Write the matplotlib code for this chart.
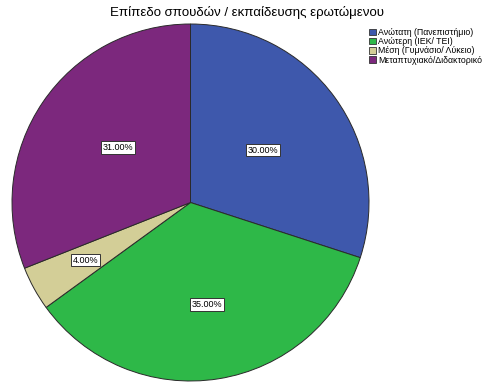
import numpy as np
import matplotlib
matplotlib.use("Agg")
import matplotlib.pyplot as plt
from matplotlib.patches import Patch

plt.rcParams['font.family'] = ['Liberation Sans', 'DejaVu Sans']

title = "Επίπεδο σπουδών / εκπαίδευσης ερωτώμενου"
categories = ["Ανώτατη (Πανεπιστήμιο)", "Ανώτερη (ΙΕΚ/ ΤΕΙ)",
              "Μέση (Γυμνάσιο/ Λύκειο)", "Μεταπτυχιακό/Διδακτορικό"]
values = [30.0, 35.0, 4.0, 31.0]
colors = ["#3E58AC", "#2EB848", "#D3CE97", "#7C287D"]
label_dist = [0.50, 0.58, 0.67, 0.51]
label_angle_off = [0, 0, 0, -3]

W, H = 483, 383
fig = plt.figure(figsize=(W / 100, H / 100), dpi=100)
cx, cy, r = 190.5, 202.5, 178.5
ax = fig.add_axes([(cx - r) / W, (H - cy - r) / H, 2 * r / W, 2 * r / H])
wedges, _ = ax.pie(values, colors=colors, startangle=90, counterclock=False,
                   radius=1, wedgeprops=dict(edgecolor="#2a2a2a", linewidth=0.7))
ax.set_xlim(-1, 1)
ax.set_ylim(-1, 1)
ax.set_aspect('equal')
ax.axis('off')

for w, v, d, off in zip(wedges, values, label_dist, label_angle_off):
    ang = np.deg2rad((w.theta1 + w.theta2) / 2 + off)
    ax.text(d * np.cos(ang), d * np.sin(ang), f"{v:.2f}%", ha='center', va='center',
            fontsize=6.5, color='black',
            bbox=dict(boxstyle='square,pad=0.2', facecolor='white', edgecolor='#333333', linewidth=0.7))

fig.text(247 / W, 1 - 12.5 / H, title, ha='center', va='center', fontsize=9.5, color='black')

handles = [Patch(facecolor=c, edgecolor='#333333', linewidth=0.6) for c in colors]
fig.legend(handles, categories, loc='upper left', bbox_to_anchor=(369 / W, 1 - 28 / H),
           frameon=False, fontsize=6.3, handlelength=0.75, handleheight=0.75,
           handletextpad=0.3, labelspacing=0.02, borderpad=0, borderaxespad=0)

fig.savefig("out.png", dpi=100)
